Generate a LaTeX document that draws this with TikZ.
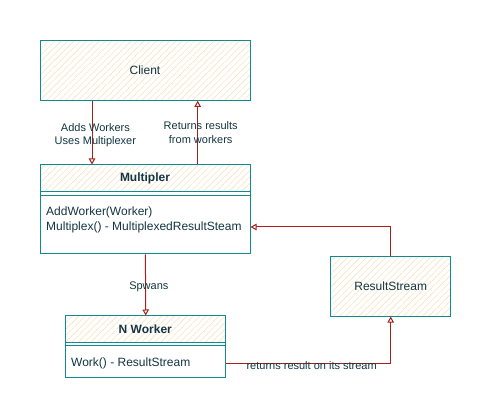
\documentclass[tikz,border=0pt]{standalone}
\usepackage{fontspec}
\setmainfont{Liberation Sans}
\usetikzlibrary{arrows.meta,patterns.meta}

\definecolor{boxline}{HTML}{0F8B8D}
\definecolor{hatch}{HTML}{F2CC8F}
\definecolor{flowred}{HTML}{A8201A}
\definecolor{ink}{HTML}{143642}

\begin{document}
\begin{tikzpicture}[x=1pt,y=-1pt,
    box/.style={draw=boxline,line width=1pt,inner sep=0pt,text=ink,font=\fontsize{12}{14}\selectfont},
    hatched/.style={box,pattern={Lines[angle=45,distance=4.5pt,line width=0.6pt]},pattern color=hatch!55},
    divider/.style={draw=boxline,line width=1pt},
    flow/.style={draw=flowred,line width=1pt,-{Triangle[open,length=6pt,width=6.5pt]}},
    lbl/.style={text=ink,align=center,inner sep=0pt,font=\fontsize{11}{13.5}\selectfont},
    ops/.style={text=ink,anchor=west,align=left,inner sep=0pt,font=\fontsize{12}{14.3}\selectfont}]
                \path[fill=white,use as bounding box](0,0)rectangle(485,414);
                % boxes
                \node[hatched,minimum width=210pt,minimum height=60pt](client)at(145,70.5){Client};
                \node[hatched,minimum width=210pt,minimum height=27pt,font=\fontsize{12}{14}\selectfont\bfseries](multhead)at(145,178.5){Multipler};
                \node[box,minimum width=210pt,minimum height=62pt](multbody)at(145,223){};
                \node[ops](multops)at(46,220){AddWorker(Worker)\\Multiplex() - MultiplexedResultSteam};
                \node[hatched,minimum width=160.5pt,minimum height=26pt,font=\fontsize{12}{14}\selectfont\bfseries](workhead)at(145.3,329){N Worker};
                \node[box,minimum width=160.5pt,minimum height=35pt](workbody)at(145.3,359.5){};
                \node[ops](workops)at(71,363.5){Work() - ResultStream};
                \node[hatched,minimum width=120pt,minimum height=59.5pt](result)at(390.7,286.3){ResultStream};
                \path[divider]([yshift=-4pt]multbody.north west) -- ([yshift=-4pt]multbody.north east)
                ([yshift=-4pt]workbody.north west) -- ([yshift=-4pt]workbody.north east);
                % connectors
                \path([xshift=-53pt]client.south) edge[flow] node[lbl,xshift=3.4pt,yshift=-2.6pt]{Adds Workers\\Uses Multiplexer} ([xshift=-53pt]multhead.north)
                ([xshift=52.7pt]multhead.north) edge[flow] node[lbl,xshift=3pt]{Returns results\\from workers} ([xshift=52.7pt]client.south)
                ([xshift=0.4pt]multbody.south) edge[flow] node[lbl,xshift=3.3pt,yshift=-1.7pt]{Spwans} ([xshift=0.4pt]workhead.north);
                \draw[flow](result.north) |- ([yshift=-4pt]multbody.east);
                \draw[flow]([yshift=-3.5pt]workbody.east) -| node[lbl,pos=0.26,yshift=-2.5pt]{returns result on its stream} (result.south);
            \end{tikzpicture}
\end{document}
